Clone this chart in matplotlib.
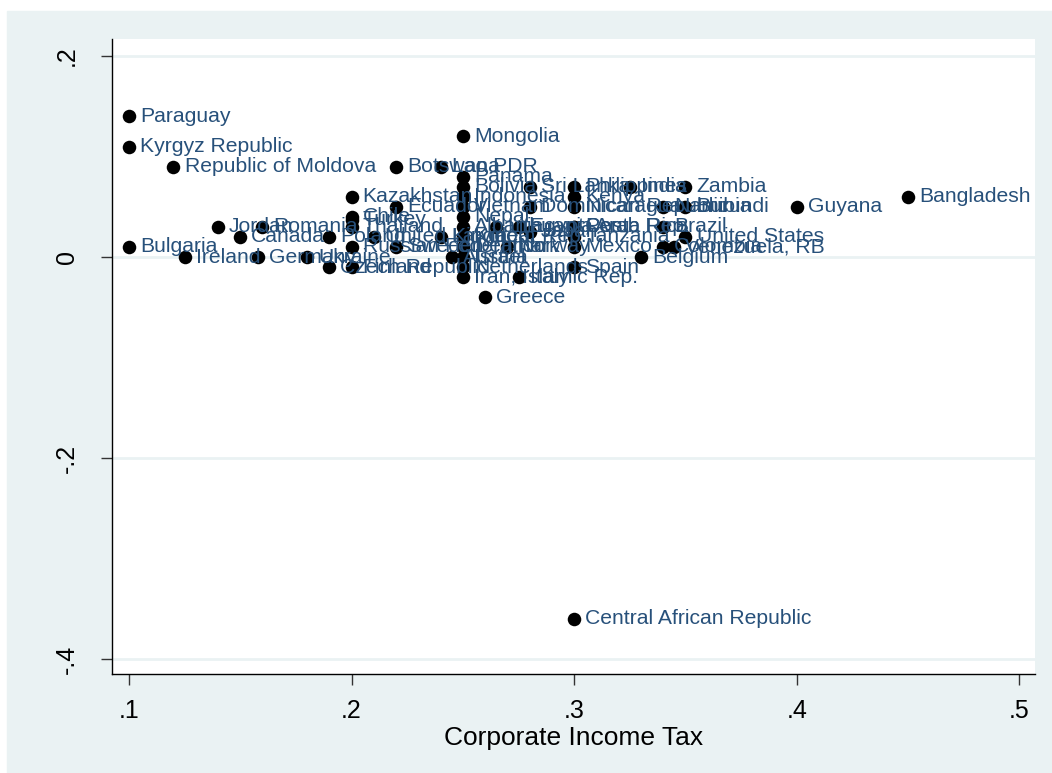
import matplotlib.pyplot as plt
from matplotlib.patches import Rectangle

# country, corporate income tax rate, outcome
countries = [
    "Paraguay", "Kyrgyz Republic", "Republic of Moldova", "Bulgaria", "Ireland",
    "Jordan", "Canada", "Germany", "Romania", "Ukraine", "Poland", "Czech Republic",
    "Kazakhstan", "Chile", "Turkey", "Thailand", "Russian Federation", "Finland",
    "United Kingdom", "Botswana", "Ecuador", "Sweden", "Lao PDR", "Latvia", "Austria",
    "Mongolia", "Panama", "Bolivia", "Indonesia", "Vietnam", "Nepal", "Albania",
    "Korea, Rep.", "Denmark", "Israel", "Netherlands", "Iran, Islamic Rep.", "Greece",
    "Lithuania", "Norway", "Egypt, Arab Rep.", "Italy", "Sri Lanka",
    "Dominican Republic", "Japan", "Philippines", "Kenya", "Nicaragua", "Costa Rica",
    "Peru", "Tanzania", "Mexico", "Spain", "Central African Republic", "India",
    "Belgium", "Namibia", "Brazil", "Colombia", "Venezuela, RB", "Zambia", "Burundi",
    "United States", "Guyana", "Bangladesh",
]
cit = [
    0.10, 0.10, 0.12, 0.10, 0.125,
    0.14, 0.15, 0.158, 0.16, 0.18, 0.19, 0.19,
    0.20, 0.20, 0.20, 0.20, 0.20, 0.20,
    0.21, 0.22, 0.22, 0.22, 0.24, 0.24, 0.245,
    0.25, 0.25, 0.25, 0.25, 0.25, 0.25, 0.25,
    0.25, 0.25, 0.25, 0.25, 0.25, 0.26,
    0.265, 0.27, 0.275, 0.275, 0.28,
    0.28, 0.28, 0.30, 0.30, 0.30, 0.30,
    0.30, 0.30, 0.30, 0.30, 0.30, 0.325,
    0.33, 0.34, 0.34, 0.34, 0.345, 0.35, 0.35,
    0.35, 0.40, 0.45,
]
yval = [
    0.14, 0.11, 0.09, 0.01, 0.00,
    0.03, 0.02, 0.00, 0.03, 0.00, 0.02, -0.01,
    0.06, 0.04, 0.037, 0.03, 0.01, -0.01,
    0.02, 0.09, 0.05, 0.01, 0.09, 0.02, 0.00,
    0.12, 0.08, 0.07, 0.06, 0.05, 0.04, 0.03,
    0.02, 0.01, 0.00, -0.01, -0.02, -0.04,
    0.03, 0.01, 0.03, -0.02, 0.07,
    0.05, 0.025, 0.07, 0.06, 0.05, 0.03,
    0.03, 0.02, 0.01, -0.01, -0.36, 0.07,
    0.00, 0.05, 0.03, 0.01, 0.01, 0.07, 0.05,
    0.02, 0.05, 0.06,
]

xticks = [0.1, 0.2, 0.3, 0.4, 0.5]
xticklabels = [".1", ".2", ".3", ".4", ".5"]
yticks = [-0.4, -0.2, 0, 0.2]
yticklabels = ["-.4", "-.2", "0", ".2"]

plt.rcParams["font.family"] = ["Liberation Sans", "DejaVu Sans"]

bg = "#EAF2F3"
label_color = "#27507A"

fig = plt.figure(figsize=(10.52, 7.73), dpi=100, facecolor="white")
# light panel behind the plot, leaving a thin white margin top and left
fig.patches.append(Rectangle((7 / 1052, -0.05), 1.1, 1.05 + (773 - 11) / 773 - 1,
                             transform=fig.transFigure, color=bg, zorder=-10))

ax = fig.add_axes([112 / 1052, (773 - 674) / 773, (1035 - 112) / 1052, (674 - 39) / 773])
ax.set_facecolor("white")

ax.scatter(cit, yval, s=95, c="black", zorder=3, linewidths=0)
for name, xv, yv in zip(countries, cit, yval):
    ax.annotate(name, (xv, yv), xytext=(8, 0), textcoords="offset points",
                va="center", ha="left", fontsize=15.2, color=label_color, zorder=4)

ax.set_xlim(0.0924, 0.507)
ax.set_ylim(-0.415, 0.217)

ax.set_yticks(yticks)
ax.set_yticklabels(yticklabels, rotation=90, va="center", fontsize=18)
ax.set_xticks(xticks)
ax.set_xticklabels(xticklabels, fontsize=18)
ax.tick_params(direction="out", length=8, width=1, color="#333333")
ax.tick_params(axis="x", pad=10)
ax.tick_params(axis="y", pad=16)

ax.grid(axis="y", color=bg, linewidth=2)
ax.set_axisbelow(True)

for side in ["top", "right"]:
    ax.spines[side].set_visible(False)
for side in ["left", "bottom"]:
    ax.spines[side].set_linewidth(1)
    ax.spines[side].set_color("black")

ax.set_xlabel("Corporate Income Tax", fontsize=19, labelpad=2)

fig.savefig("out.png", dpi=100, facecolor=fig.get_facecolor())
